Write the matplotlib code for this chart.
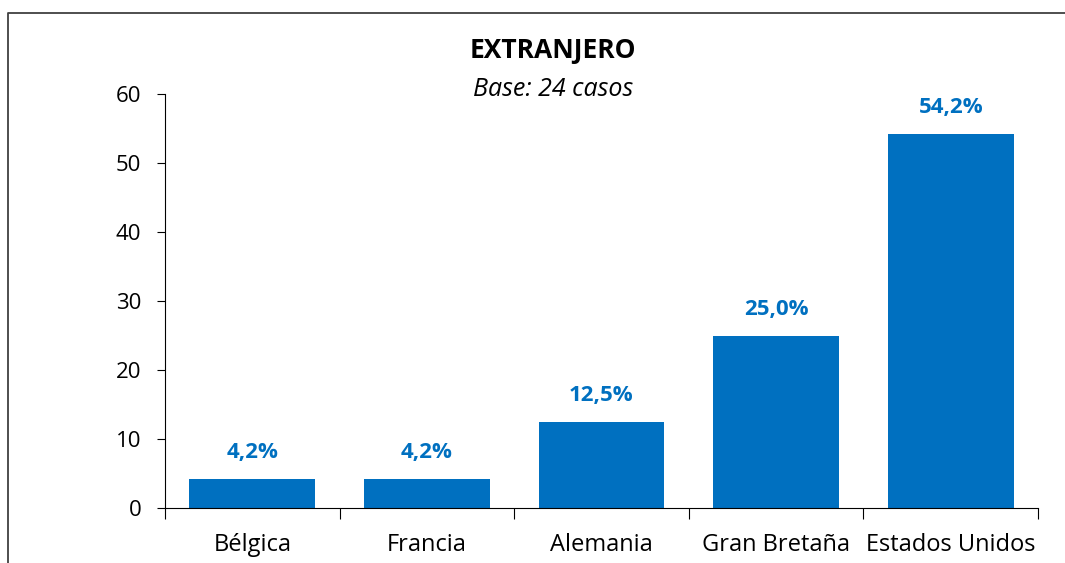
import matplotlib.pyplot as plt
from matplotlib.lines import Line2D
import numpy as np

paises = ["Bélgica", "Francia", "Alemania", "Gran Bretaña", "Estados Unidos"]
valores = [4.2, 4.2, 12.5, 25.0, 54.2]
etiquetas = ["4,2%", "4,2%", "12,5%", "25,0%", "54,2%"]
yticks = [0, 10, 20, 30, 40, 50, 60]

plt.rcParams['font.family'] = ['Open Sans', 'DejaVu Sans']
azul = '#0070C0'

fig = plt.figure(figsize=(10.65, 5.63), dpi=100)
ax = fig.add_axes([165/1065, 1 - 508/563, (1038-165)/1065, (508-94)/563])

x = np.arange(len(paises))
ax.bar(x, valores, width=0.72, color=azul)
for xi, v, lab in zip(x, valores, etiquetas):
    ax.annotate(lab, (xi, v), xytext=(0, 19), textcoords='offset points',
                ha='center', va='center', color=azul, fontsize=16, fontweight='bold')

ax.set_xlim(-0.5, len(paises) - 0.5)
ax.set_ylim(0, 60)
ax.set_yticks(yticks)
ax.tick_params(axis='y', labelsize=16, length=6, direction='out', pad=11)
# ticks at the category boundaries, labels centered
ax.set_xticks(np.arange(len(paises) + 1) - 0.5)
ax.set_xticklabels([])
ax.set_xticks(x, minor=True)
ax.set_xticklabels(paises, minor=True)
ax.tick_params(axis='x', which='major', length=8, direction='out')
ax.tick_params(axis='x', which='minor', length=0, labelsize=17, pad=18)
for s in ['top', 'right']:
    ax.spines[s].set_visible(False)

fig.text(553/1065, 1 - 50/563, "EXTRANJERO", ha='center', va='center', fontsize=19, fontweight='bold')
fig.text(553/1065, 1 - 89/563, "Base: 24 casos", ha='center', va='center', fontsize=18, style='italic')

# outer frame (partially visible)
fig.add_artist(Line2D([8/1065, 8/1065, 1.0], [0.0, 1 - 13/563, 1 - 13/563], color='#404040', lw=1.3))

fig.savefig('out.png', dpi=100)
